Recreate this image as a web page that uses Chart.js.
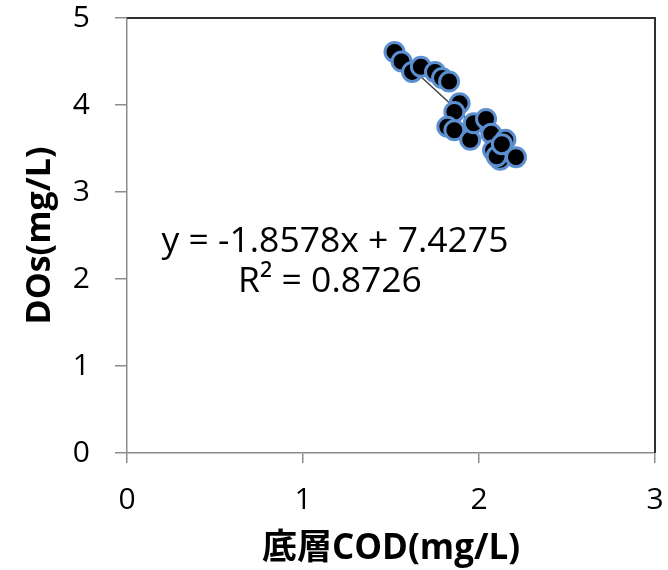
<!DOCTYPE html>
<html>
<head>
<meta charset="utf-8">
<script src="https://cdn.jsdelivr.net/npm/chart.js@4.4.1/dist/chart.umd.min.js"></script>
<style>
  html, body { margin: 0; padding: 0; background: #fff; }
  #wrap { width: 668px; height: 570px; }
</style>
</head>
<body>
<div id="wrap"><canvas id="codChart" width="668" height="570"></canvas></div>
<script>
// bottom-layer COD vs DOs
const codValues = [1.52, 1.56, 1.62, 1.67, 1.75, 1.79, 1.83, 1.89, 1.86, 1.82, 1.86, 1.95, 1.97, 2.04, 2.07, 2.15, 2.08, 2.12, 2.21, 2.10, 2.13];
const dosValues = [4.61, 4.50, 4.38, 4.44, 4.38, 4.31, 4.27, 4.02, 3.92, 3.75, 3.71, 3.60, 3.79, 3.84, 3.67, 3.60, 3.48, 3.37, 3.40, 3.41, 3.55];
const xTicks = [0, 1, 2, 3];
const yTicks = [0, 1, 2, 3, 4, 5];
const slope = -1.8578;
const intercept = 7.4275;
const rSquared = 0.8726;

const points = codValues.map((x, i) => ({ x: x, y: dosValues[i] }));
const xMin = Math.min(...codValues);
const xMax = Math.max(...codValues);
const trendPoints = [
  { x: xMin, y: slope * xMin + intercept },
  { x: xMax, y: slope * xMax + intercept }
];

const FONT = "'Open Sans', 'Noto Sans CJK JP', sans-serif";

// top/right frame lines + equation text
const extras = {
  id: 'extras',
  afterDraw(chart) {
    const { ctx, chartArea } = chart;
    ctx.save();
    ctx.strokeStyle = '#303030';
    ctx.lineWidth = 2;
    ctx.beginPath();
    ctx.moveTo(chartArea.left, chartArea.top);
    ctx.lineTo(chartArea.right, chartArea.top);
    ctx.lineTo(chartArea.right, chartArea.bottom);
    ctx.stroke();

    ctx.fillStyle = '#000';
    ctx.font = '35.5px ' + FONT;
    ctx.textAlign = 'center';
    ctx.textBaseline = 'middle';
    const sign = intercept >= 0 ? '+' : '-';
    ctx.fillText('y = ' + slope.toFixed(4) + 'x ' + sign + ' ' + Math.abs(intercept).toFixed(4), 335, 242);
    ctx.fillText('R\u00B2 = ' + rSquared.toFixed(4), 330, 282);
    ctx.restore();
  }
};

new Chart(document.getElementById('codChart').getContext('2d'), {
  type: 'scatter',
  data: {
    datasets: [{
      label: 'DOs',
      data: points,
      backgroundColor: '#000000',
      borderColor: '#5b8fd0',
      borderWidth: 3,
      pointRadius: 9.5,
      order: 1
    }, {
      label: 'trend',
      type: 'line',
      data: trendPoints,
      borderColor: '#404040',
      borderWidth: 1.5,
      pointRadius: 0,
      fill: false,
      order: 2
    }]
  },
  options: {
    responsive: false,
    animation: false,
    layout: { padding: { top: 18, right: 13, left: 0, bottom: 0 } },
    plugins: { legend: { display: false }, tooltip: { enabled: false } },
    scales: {
      x: {
        type: 'linear',
        min: 0, max: 3,
        afterFit(scale) {
          scale.height = 117;
          scale.paddingLeft = 0; scale.paddingRight = 0;
        },
        afterBuildTicks(scale) { scale.ticks = xTicks.map(v => ({ value: v })); },
        grid: { drawOnChartArea: false, drawTicks: true, tickLength: 10, color: '#8c8c8c', lineWidth: 1.5 },
        border: { display: true, color: '#8c8c8c', width: 1.5 },
        ticks: { color: '#000', padding: 19, font: { family: FONT, size: 30 } },
        title: {
          display: true,
          text: '底層COD(mg/L)',
          color: '#000',
          padding: { top: 0, bottom: 0 },
          font: { family: FONT, size: 35, weight: 'bold' }
        }
      },
      y: {
        type: 'linear',
        min: 0, max: 5,
        afterFit(scale) {
          scale.width = 127;
          scale.paddingTop = 0; scale.paddingBottom = 0;
        },
        afterBuildTicks(scale) { scale.ticks = yTicks.map(v => ({ value: v })); },
        grid: { drawOnChartArea: false, drawTicks: true, tickLength: 12, color: '#8c8c8c', lineWidth: 1.5 },
        border: { display: true, color: '#8c8c8c', width: 1.5 },
        ticks: { color: '#000', padding: 25, font: { family: FONT, size: 30 } },
        title: {
          display: true,
          text: 'DOs(mg/L)',
          color: '#000',
          padding: { top: 20, bottom: 0 },
          font: { family: FONT, size: 34, weight: 'bold' }
        }
      }
    }
  },
  plugins: [extras]
});
</script>
</body>
</html>
